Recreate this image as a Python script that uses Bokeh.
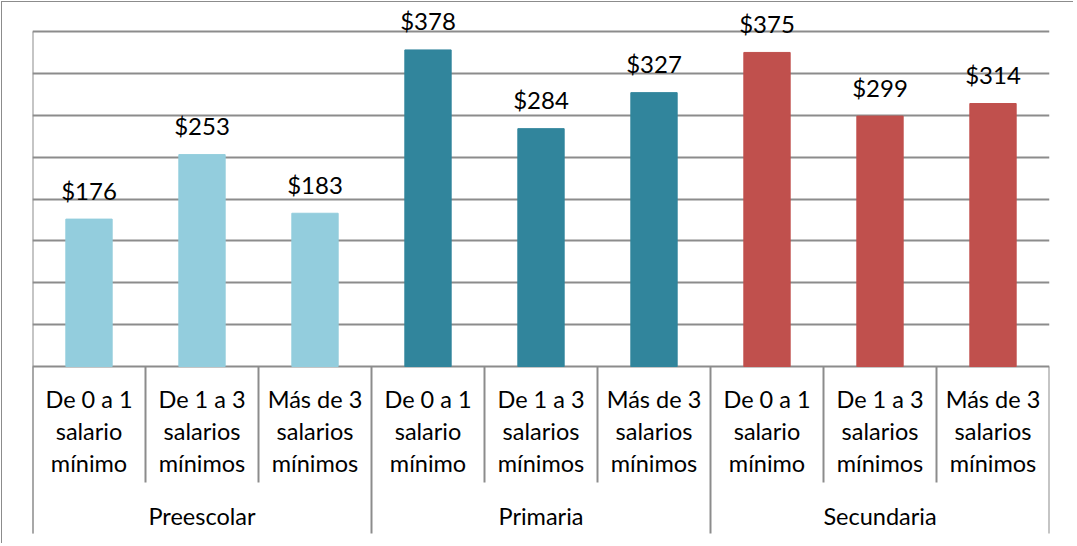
from bokeh.plotting import figure
from bokeh.models import ColumnDataSource, FixedTicker
from bokeh.embed import file_html
from bokeh.resources import INLINE
from bokeh.core.properties import value

# ---- data ----
groups = ["Preescolar", "Primaria", "Secundaria"]
subcats = ["De 0 a 1\nsalario\nmínimo", "De 1 a 3\nsalarios\nmínimos", "Más de 3\nsalarios\nmínimos"]
values_pre = [176, 253, 183]
values_pri = [378, 284, 327]
values_sec = [375, 299, 314]
group_colors = ["#93CDDD", "#31859C", "#C0504D"]
y_ticks = [0, 50, 100, 150, 200, 250, 300, 350, 400]

FONT = "Lato"
GRID = "#8C8C8C"

# ---- layout (pixels) ----
W, H = 1072, 542
left, right = 30, 25
zero_px = 364            # pixel row of value 0 inside the figure
top_px = 29              # pixel row of value 400 inside the figure
y_axis_max = 400
px_per_unit = (zero_px - top_px) / y_axis_max

def px(d):
    return d / px_per_unit

y_top = y_axis_max + px(top_px)
y_bot = -px(H - zero_px)

p = figure(width=W, height=H, x_range=(0, 9), y_range=(y_bot, y_top),
           output_backend="svg", toolbar_location=None,
           x_axis_location=None, y_axis_location=None,
           min_border_left=left, min_border_top=0,
           min_border_right=right, min_border_bottom=0)
p.outline_line_color = None
p.xgrid.visible = False
p.ygrid.ticker = FixedTicker(ticks=y_ticks)
p.ygrid.grid_line_color = GRID
p.ygrid.grid_line_width = 2
p.background_fill_color = "white"
p.border_fill_color = "white"

all_vals = values_pre + values_pri + values_sec
xs = [i + 0.5 for i in range(9)]
colors = [group_colors[i // 3] for i in range(9)]
labels = ["$%d" % v for v in all_vals]
src = ColumnDataSource(dict(x=xs, top=all_vals, color=colors, label=labels))

p.vbar(x="x", top="top", bottom=0, width=0.41, color="color", source=src)
p.text(x="x", y="top", text="label", source=src, text_align="center",
       text_baseline="alphabetic", y_offset=-29, text_font=value(FONT),
       text_font_size="24px", text_color="#000000")

# axis / separators
axis_bottom = -px(167)
p.segment(x0=[0], y0=[axis_bottom], x1=[0], y1=[y_axis_max], line_color=GRID, line_width=2)
inner = [1, 2, 4, 5, 7, 8]
outer = [0, 3, 6, 9]
p.segment(x0=inner, y0=[0] * 6, x1=inner, y1=[-px(116)] * 6, line_color=GRID, line_width=2)
p.segment(x0=outer, y0=[0] * 4, x1=outer, y1=[axis_bottom] * 4, line_color=GRID, line_width=2)

# category labels
for line_idx, off in enumerate([32, 64, 96]):
    txt = [subcats[i % 3].split("\n")[line_idx] for i in range(9)]
    p.text(x=xs, y=[0] * 9, text=txt, text_align="center", text_baseline="alphabetic",
           y_offset=off, text_font=value(FONT), text_font_size="23.5px", text_color="#000000")

p.text(x=[1.5, 4.5, 7.5], y=[0] * 3, text=groups, text_align="center",
       text_baseline="alphabetic", y_offset=149, text_font=value(FONT),
       text_font_size="23.5px", text_color="#000000")

p.styles = {"border-top": "1px solid #8C8C8C", "border-left": "1px solid #8C8C8C",
            "margin-top": "1px", "margin-left": "1px"}

open("out.html", "w").write(file_html(p, INLINE))
